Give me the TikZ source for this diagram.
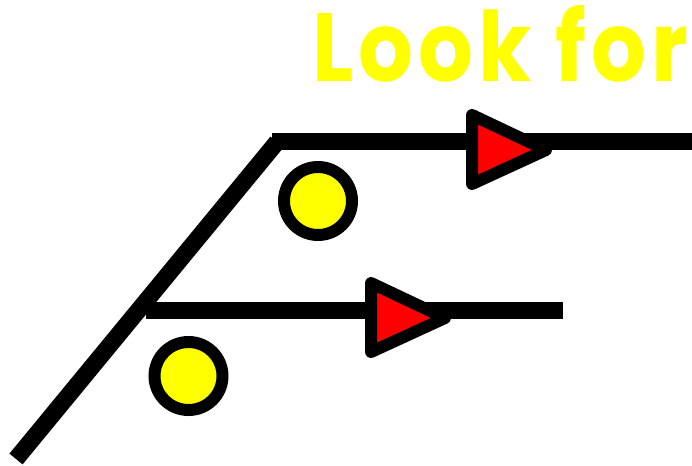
\documentclass[tikz,border=0pt]{standalone}
\usepackage{fontspec}
\setmainfont{Fira Sans}
\newfontfamily\titlefont[LetterSpace=6]{Poppins}
\usepackage{graphicx}
\definecolor{ylw}{RGB}{255,255,0}
\definecolor{rd}{RGB}{255,0,0}
\tikzset{
  track/.style={line width=17pt, line cap=butt},
  arrowtri/.style={draw=black, fill=rd, line width=12pt, line join=round},
  lamp/.style={circle, draw=black, fill=ylw, line width=12pt, minimum size=68pt, inner sep=0pt},
}
\begin{document}
\begin{tikzpicture}[x=1pt,y=-1pt]
\useasboundingbox (0,0) rectangle (692,465);
\coordinate (d0) at (16,459);
\coordinate (d1) at (277,142);
\coordinate (u0) at (272,142);
\coordinate (u1) at (692,142);
\coordinate (l0) at (146,310);
\coordinate (l1) at (563,310);
\draw[track] (d0) -- (d1);
\draw[track] (u0) -- (u1);
\draw[track] (l0) -- (l1);
\draw[arrowtri] (472,115) -- (546,150) -- (472,184) -- cycle;
\draw[arrowtri] (371,283) -- (445,318) -- (371,352) -- cycle;
\node[lamp] (c1) at (318,201) {};
\node[lamp] (c2) at (188.5,376) {};
\node[anchor=base west, inner sep=0pt, text=ylw] (t) at (312,82)
  {\resizebox{376pt}{76pt}{\titlefont\fontseries{sb}\selectfont Look for}};
\end{tikzpicture}
\end{document}
